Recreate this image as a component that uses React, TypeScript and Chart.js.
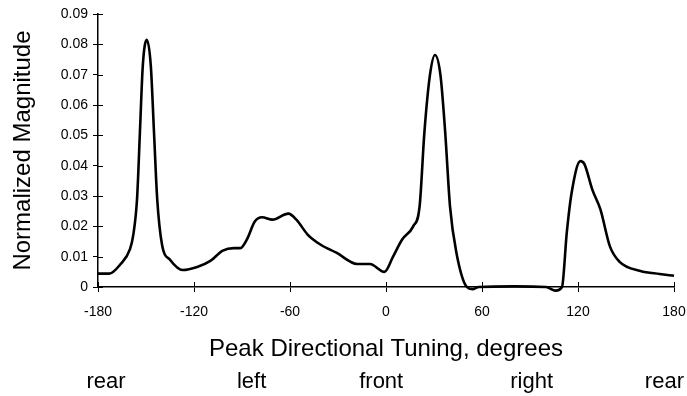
import React, { useEffect, useRef } from "react";
import { Chart, registerables } from "chart.js";

Chart.register(...registerables);

const degrees = [
  -180, -173, -166, -160, -158, -155.6, -153.8, -152, -149.5, -147, -145, -143, -140,
  -135, -127, -118, -110, -102, -95, -91, -87, -82, -77.5, -71, -61, -56, -49, -41, -31,
  -18, -10, -1, 4.4, 10, 17, 21, 24, 27.5, 30.6, 34, 37, 40, 44, 50.5, 54, 58, 80, 100,
  106, 110, 113, 116, 121.5, 124, 129, 134, 140, 146, 159, 171, 180,
];
const magnitude = [
  0.0044, 0.0044, 0.0075, 0.0125, 0.017, 0.029, 0.051, 0.073, 0.0815, 0.073, 0.051, 0.029, 0.014,
  0.009, 0.0056, 0.0066, 0.0085, 0.012, 0.0128, 0.0128, 0.0156, 0.0216, 0.023, 0.0222, 0.0242, 0.0222, 0.0173, 0.014, 0.0113,
  0.0076, 0.0076, 0.005, 0.01, 0.0156, 0.02, 0.0266, 0.051, 0.07, 0.0765, 0.07, 0.051, 0.0266, 0.0113, 0.0, -0.0007, 0.0, 0.0002, 0.0,
  -0.0012, 0.0, 0.018, 0.031, 0.0415, 0.0405, 0.032, 0.0256, 0.0133, 0.0083, 0.0053, 0.0043, 0.0037,
];
const xTicks = [-180, -120, -60, 0, 60, 120, 180];
const yTicks = [0, 0.01, 0.02, 0.03, 0.04, 0.05, 0.06, 0.07, 0.08, 0.09];
const directionLabels = ["rear", "left", "front", "right", "rear"];
const directionAnchors = [-175, -84, -3, 91, 174];

const FONT = "'Liberation Sans', Arial, Helvetica, sans-serif";

const crossTicks = {
  id: "crossTicks",
  afterDatasetsDraw(chart: any) {
    const { ctx, scales, chartArea } = chart;
    const x = scales.x;
    const y = scales.y;
    ctx.save();
    ctx.strokeStyle = "#000";
    ctx.lineWidth = 1;
    x.ticks.forEach((t: any) => {
      const px = Math.round(x.getPixelForValue(t.value)) + 0.5;
      ctx.beginPath();
      ctx.moveTo(px, chartArea.bottom);
      ctx.lineTo(px, chartArea.bottom - 5);
      ctx.stroke();
    });
    y.ticks.forEach((t: any) => {
      const py = Math.round(y.getPixelForValue(t.value)) + 0.5;
      ctx.beginPath();
      ctx.moveTo(chartArea.left, py);
      ctx.lineTo(chartArea.left + 5, py);
      ctx.stroke();
    });
    // direction words under the axis title
    ctx.fillStyle = "#000";
    ctx.font = `22px ${FONT}`;
    ctx.textAlign = "center";
    ctx.textBaseline = "middle";
    directionLabels.forEach((lab, i) => {
      ctx.fillText(lab, x.getPixelForValue(directionAnchors[i]), chartArea.bottom + 95);
    });
    ctx.restore();
  },
};

export default function App() {
  const ref = useRef<HTMLCanvasElement>(null);
  useEffect(() => {
    const chart = new Chart(ref.current!, {
      type: "line",
      data: {
        datasets: [
          {
            data: degrees.map((d, i) => ({ x: d, y: magnitude[i] })),
            borderColor: "#000",
            borderWidth: 2.6,
            pointRadius: 0,
            cubicInterpolationMode: "monotone",
            fill: false,
            clip: 10,
          } as any,
        ],
      },
      options: {
        animation: false,
        responsive: false,
        maintainAspectRatio: false,
        layout: { padding: { left: 0, right: 13, top: 14, bottom: 32 } },
        plugins: { legend: { display: false }, tooltip: { enabled: false } },
        scales: {
          x: {
            type: "linear",
            min: -180,
            max: 180,
            afterBuildTicks: (s: any) => {
              s.ticks = xTicks.map((v) => ({ value: v }));
            },
            afterFit: (s: any) => {
              s.height = 77;
              s.paddingLeft = 0;
              s.paddingRight = 0;
            },
            grid: { display: true, drawOnChartArea: false, drawTicks: true, tickLength: 5, color: "#000", lineWidth: 1 },
            border: { display: true, color: "#000", width: 1.5 },
            ticks: { color: "#000", font: { family: FONT, size: 14 }, padding: 12, maxRotation: 0, callback: (v: any) => String(v) },
            title: { display: true, text: "Peak Directional Tuning, degrees", color: "#000", font: { family: FONT, size: 24 }, padding: { top: 0, bottom: 0 } },
          },
          y: {
            min: 0,
            max: 0.09,
            afterBuildTicks: (s: any) => {
              s.ticks = yTicks.map((v) => ({ value: v }));
            },
            afterFit: (s: any) => {
              s.width = 98;
            },
            grid: { display: true, drawOnChartArea: false, drawTicks: true, tickLength: 5, color: "#000", lineWidth: 1 },
            border: { display: true, color: "#000", width: 1.5 },
            ticks: { color: "#000", font: { family: FONT, size: 14 }, padding: 5, callback: (v: any) => (v === 0 ? "0" : Number(v).toFixed(2)) },
            title: { display: true, text: "Normalized Magnitude", color: "#000", font: { family: FONT, size: 24 }, padding: { top: 9, bottom: 0 } },
          },
        },
      },
      plugins: [crossTicks],
    });
    return () => chart.destroy();
  }, []);
  return (
    <div style={{ position: "fixed", left: 0, top: 0, width: 687, height: 396, background: "#fff" }}>
      <canvas ref={ref} width={687} height={396} style={{ display: "block" }} />
    </div>
  );
}
